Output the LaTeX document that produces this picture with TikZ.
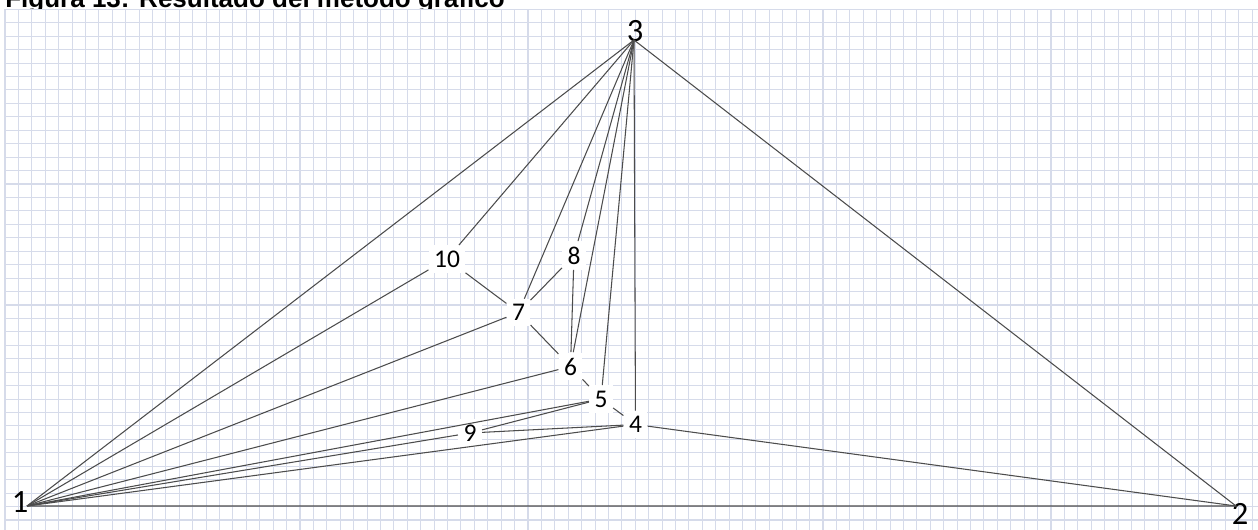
\documentclass[tikz,border=0pt]{standalone}
\usepackage{fontspec}
\setmainfont{Carlito}
\newfontfamily\titlefont{Liberation Sans}
\usetikzlibrary{calc}
\definecolor{sheetgrid}{RGB}{214,219,234}

\begin{document}
\begin{tikzpicture}[x=0.02cm, y=-0.02cm,
        gridline/.style={draw=sheetgrid, line width=0.6pt},
        edge/.style={draw=black!70, line width=0.6pt},
        vertex/.style={fill=white, inner sep=3pt, font=\fontsize{14.5}{17}\selectfont},
        corner/.style={inner sep=0pt, font=\fontsize{18.5}{21}\selectfont}]

        \useasboundingbox (0,0) rectangle (1258,530);

        % Title, partly hidden under the grid sheet
        \node [anchor=base west, inner sep=0pt] (title) at (5,7.5) {\titlefont\bfseries\fontsize{14.8}{18}\selectfont Figura 13: Resultado del método gráfico};

        % Grid sheet
        \fill [white] (5,9.3) rectangle (1258,530);
        \foreach \i in {0,...,93} {
            \draw [gridline] ({5+13.41*\i},9.3) -- ({5+13.41*\i},530);
        }
        \foreach \j in {0,...,38} {
            \draw [gridline] (5,{9.3+13.44*\j}) -- (1258,{9.3+13.44*\j});
        }

        % Outer vertices and their labels
        \coordinate (p1) at (27,506);
        \coordinate (p2) at (1236,506);
        \coordinate (p3) at (634,40);
        \node [corner] (n1) at (20,502) {1};
        \node [corner] (n2) at (1240,513.5) {2};
        \node [corner] (n3) at (635,31) {3};

        % Inner points
        \foreach \name/\x/\y in {4/635.5/424.5, 5/601/399, 6/570.5/366.5, 7/518.5/312.5, 8/574/255.5, 9/470/433, 10/447/259} {
            \node [vertex] (n\name) at (\x,\y) {\name};
        }

        % Triangle 1-2-3
        \draw [edge] (p1) -- (p2) -- (p3) -- (p1);

        % Edges from the corners
        \foreach \b in {10, 7, 6, 5, 9, 4} {
            \draw [edge] (p1) -- (n\b);
        }
        \foreach \b in {10, 7, 8, 6, 5, 4} {
            \draw [edge] (p3) -- (n\b);
        }
        \draw [edge] (n4) -- (p2);

        % Edges between inner points
        \foreach \a/\b in {10/7, 7/8, 7/6, 8/6, 6/5, 5/4, 5/9, 9/4} {
            \draw [edge] (n\a) -- (n\b);
        }

\end{tikzpicture}
\end{document}
